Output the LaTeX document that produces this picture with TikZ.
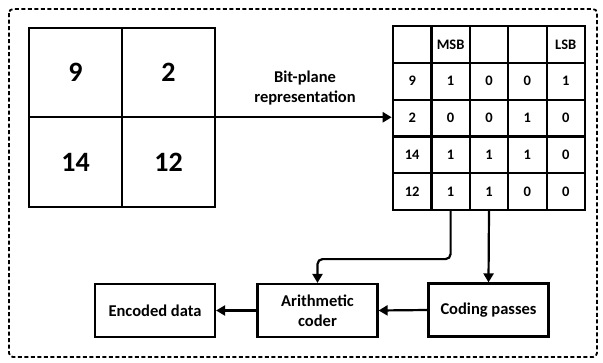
\documentclass[tikz,border=0pt]{standalone}
\usepackage{fontspec}
\setmainfont{Carlito}
\usetikzlibrary{arrows.meta,positioning,fit}
\begin{document}
\begin{tikzpicture}[x=1pt,y=-1pt,
  every node/.style={font=\bfseries},
  bigcell/.style={draw,line width=2.2pt,minimum width=93pt,minimum height=89.5pt,inner sep=0pt,font=\fontsize{28}{32}\selectfont\bfseries},
  tcell/.style={draw,line width=2.2pt,minimum width=38.4pt,minimum height=36.8pt,inner sep=0pt,font=\fontsize{14.5}{17}\selectfont\bfseries},
  procbox/.style={draw,line width=2.2pt,minimum width=120pt,minimum height=53pt,inner sep=2pt,align=center,font=\fontsize{16.5}{20}\selectfont\bfseries},
  arr/.style={line width=2.2pt,-{Triangle[length=9pt,width=10pt]}},
  frame/.style={line width=1.8pt,dash pattern=on 4pt off 2.5pt,rounded corners=4pt}]
\useasboundingbox (0,0) rectangle (603,362);
\draw[frame] (9,9) rectangle (597,357);
% left grid
\node[bigcell] (g11) at (75.5,72.5) {9};
\node[bigcell] (g12) at (168.5,72.5) {2};
\node[bigcell] (g21) at (75.5,162) {14};
\node[bigcell] (g22) at (168.5,162) {12};
\node[inner sep=0pt,fit=(g11)(g22)] (grid) {};
% table
\foreach \r/\a/\b/\c/\d/\e [count=\i] in {0/{}/MSB/{}/{}/LSB,1/9/1/0/0/1,2/2/0/0/1/0,3/14/1/1/1/0,4/12/1/1/0/0}{
  \foreach \txt [count=\j] in {\a,\b,\c,\d,\e}{
    \node[tcell] (t\i\j) at ({393+38.4*(\j-0.5)},{26+36.8*(\i-0.5)}) {\txt};
  }
}
\node[inner sep=0pt,fit=(t11)(t55)] (tab) {};
% label
\node[align=center,font=\fontsize{16.5}{19.5}\selectfont\bfseries] (lbl) at (305,88) {Bit-plane\\representation};
% bottom boxes
\node[procbox] (enc) at (155,310.5) {Encoded data};
\node[procbox] (ari) at (317.5,310.5) {Arithmetic\\coder};
\node[procbox] (cod) at (488.5,310) {Coding passes};
% arrows
\draw[arr] (grid.east) -- (grid.east -| tab.west);
\draw[arr,rounded corners=5pt] (t52.south) -- ++(0,48) -| (ari.north);
\draw[arr] (t53.south) -- (cod.north);
\draw[arr] (cod.west) -- (ari.east);
\draw[arr] (ari.west) -- (enc.east);
\end{tikzpicture}
\end{document}
